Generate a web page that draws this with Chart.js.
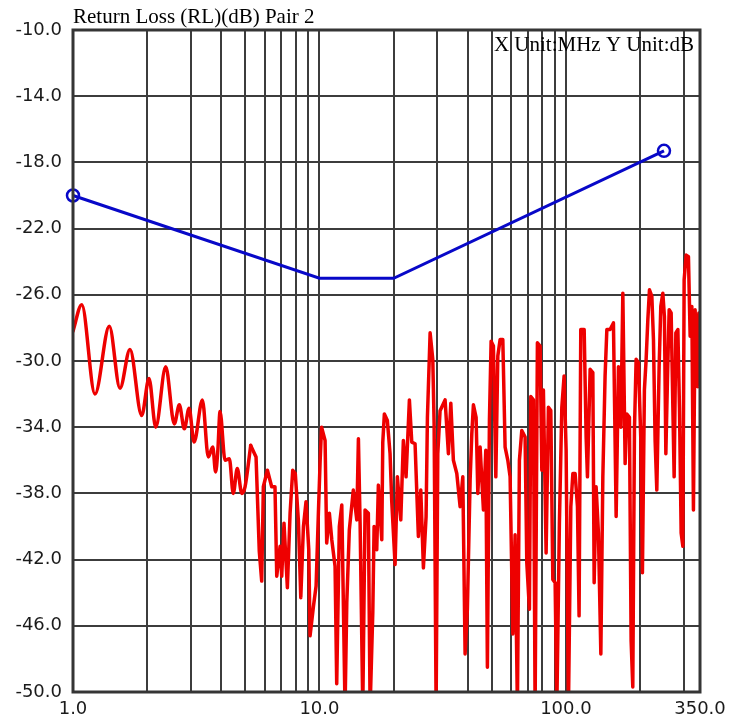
<!DOCTYPE html>
<html>
<head>
<meta charset="utf-8">
<script src="https://cdn.jsdelivr.net/npm/chart.js@4.4.1/dist/chart.umd.min.js"></script>
<style>
  html, body { margin: 0; padding: 0; background: #ffffff; }
  #wrap { width: 742px; height: 722px; position: relative; }
</style>
</head>
<body>
<div id="wrap"><canvas id="c" width="742" height="722"></canvas></div>
<script>
// ---- Data ----
const chartTitle = "Return Loss (RL)(dB) Pair 2";
const unitText = "X Unit:MHz Y Unit:dB";

// Limit line (blue)
const limitFreq = [1, 10, 20, 250];
const limitDb = [-20.0, -25.0, -25.0, -17.3];

// Measured return loss (red), MHz
const measFreq = [
  1.00, 1.085, 1.228, 1.404, 1.551, 1.703, 1.90, 2.034, 2.166, 2.378,
  2.577, 2.70, 2.83, 2.958, 3.10, 3.35, 3.54, 3.69, 3.79, 3.87,
  3.95, 4.14, 4.31, 4.47, 4.64, 4.84, 4.99, 5.26, 5.53, 5.70,
  5.83, 5.92, 6.15, 6.40, 6.60, 6.71, 6.92, 7.03, 7.18, 7.41,
  7.60, 7.79, 7.98, 8.21, 8.40, 8.61, 8.82, 9.05, 9.16, 9.45,
  9.69, 9.90, 10.06, 10.2, 10.54, 10.70, 10.97, 11.22, 11.57, 11.75,
  12.04, 12.32, 12.70, 12.91, 13.22, 13.72, 14.17, 14.39, 14.62, 14.99,
  15.31, 15.79, 16.05, 16.46, 16.66, 17.08, 17.34, 17.90, 18.07, 18.34,
  18.86, 19.34, 19.65, 20.27, 20.71, 21.38, 21.90, 22.46, 23.17, 23.69,
  24.43, 25.20, 25.77, 26.41, 27.08, 27.42, 28.12, 28.83, 29.19, 29.74,
  30.21, 30.86, 32.34, 33.36, 34.12, 34.95, 36.08, 37.21, 38.16, 38.99,
  39.83, 40.86, 41.51, 42.14, 43.21, 43.91, 44.86, 46.27, 47.31, 48.02,
  48.94, 49.72, 50.80, 51.95, 52.93, 54.08, 55.46, 56.66, 58.11, 59.37,
  60.89, 62.20, 63.56, 64.76, 66.22, 68.30, 69.39, 71.11, 72.04, 73.82,
  74.99, 76.62, 78.58, 79.84, 81.04, 83.11, 84.92, 86.84, 88.48, 90.42,
  91.86, 94.10, 96.25, 98.33, 100.2, 102.4, 104.7, 106.7, 109.0, 111.4,
  113.1, 114.9, 118.6, 120.8, 122.3, 125.4, 128.6, 130.2, 132.6, 135.5,
  138.6, 141.2, 144.2, 146.6, 151.1, 155.9, 159.9, 163.4, 167.1, 170.2,
  173.9, 176.7, 181.0, 183.9, 186.8, 189.7, 192.7, 196.9, 201.4, 204.4,
  208.2, 211.6, 215.0, 218.3, 223.2, 226.6, 230.1, 233.8, 238.9, 242.7,
  247.3, 251.0, 254.4, 258.2, 262.4, 267.3, 271.6, 274.9, 279.3, 284.6,
  288.9, 293.5, 298.2, 301.8, 307.5, 314.2, 319.2, 324.3, 329.2, 334.4,
  343.0, 346.2, 350.0
];
const measDb = [
  -28.2, -26.6, -32.0, -27.9, -31.65, -29.3, -33.3, -31.05, -34.0, -30.35,
  -33.8, -32.65, -34.1, -32.85, -34.9, -32.35, -35.8, -35.2, -36.7, -35.4,
  -33.05, -36.0, -35.9, -38.0, -36.5, -38.0, -37.6, -35.1, -35.8, -41.5,
  -43.3, -37.6, -36.6, -37.6, -37.6, -43.0, -41.2, -43.0, -39.8, -43.7,
  -39.2, -36.6, -36.8, -39.6, -44.3, -40.0, -38.5, -41.4, -46.6, -44.85,
  -43.6, -39.2, -36.1, -34.0, -34.8, -41.0, -39.2, -40.8, -42.4, -49.5,
  -40.0, -38.7, -51.0, -44.6, -40.2, -37.8, -39.6, -34.7, -39.8, -51.0,
  -39.0, -39.2, -51.0, -45.2, -40.0, -41.4, -37.5, -40.8, -34.9, -33.2,
  -33.6, -35.6, -38.5, -42.3, -37.0, -39.6, -34.8, -37.0, -32.35, -34.9,
  -35.0, -40.6, -37.8, -42.5, -39.4, -33.4, -28.3, -29.9, -33.8, -51.0,
  -35.6, -33.0, -32.35, -35.6, -32.55, -36.0, -36.8, -38.8, -37.0, -47.7,
  -45.0, -37.2, -34.4, -32.65, -33.4, -38.0, -35.2, -39.0, -35.4, -48.5,
  -33.6, -28.8, -29.1, -37.0, -29.7, -28.7, -28.7, -35.2, -36.0, -37.0,
  -46.5, -40.5, -51.0, -36.0, -34.2, -34.6, -42.2, -45.0, -32.15, -32.35,
  -51.0, -28.9, -29.1, -36.6, -31.75, -41.6, -32.8, -33.0, -43.2, -43.4,
  -51.0, -39.8, -32.8, -30.9, -35.4, -51.0, -38.8, -36.8, -36.8, -38.8,
  -45.4, -28.1, -28.1, -34.6, -37.0, -30.5, -30.7, -43.4, -37.6, -40.4,
  -47.7, -37.0, -30.9, -28.1, -28.1, -27.7, -39.4, -30.35, -34.0, -25.9,
  -36.2, -33.2, -33.4, -46.9, -49.7, -34.2, -29.9, -30.1, -34.8, -42.8,
  -31.75, -29.9, -27.5, -25.7, -26.1, -28.7, -34.8, -37.8, -30.35, -26.7,
  -25.9, -27.3, -35.6, -31.15, -26.9, -27.1, -32.8, -37.0, -28.3, -28.1,
  -32.8, -40.4, -41.2, -25.1, -23.6, -23.7, -28.5, -26.7, -39.0, -26.9,
  -31.55, -27.1, -27.4
];
// Index where the trace stops oscillating smoothly and turns spiky
const smoothEnd = 27;

// Axis ticks
const xGridFreqs = [1, 2, 3, 4, 5, 6, 7, 8, 9, 10, 20, 30, 40, 50, 60, 70, 80, 90, 100, 200, 300, 350];
const xLabelFreqs = [1, 10, 100, 350];
const yMin = -50, yMax = -10, yStep = 4;

// ---- Chart ----
const toPts = (xs, ys) => xs.map((x, i) => ({ x: x, y: ys[i] }));
const RED = '#ee0000';
const BLUE = '#0808c8';

const framePlugin = {
  id: 'frame',
  afterDraw(chart) {
    const { ctx, chartArea: a } = chart;
    ctx.save();
    ctx.strokeStyle = '#353535';
    ctx.lineWidth = 3;
    ctx.strokeRect(a.left, a.top, a.right - a.left, a.bottom - a.top);
    ctx.fillStyle = '#000000';
    ctx.font = '21px "Liberation Serif", "Times New Roman", serif';
    ctx.textBaseline = 'alphabetic';
    ctx.textAlign = 'left';
    ctx.fillText(chartTitle, a.left, 23);
    ctx.textAlign = 'right';
    ctx.fillText(unitText, a.right - 6, 51);
    ctx.restore();
  }
};

new Chart(document.getElementById('c'), {
  type: 'line',
  data: {
    datasets: [
      {
        label: 'Measured (low)',
        data: toPts(measFreq.slice(0, smoothEnd + 1), measDb.slice(0, smoothEnd + 1)),
        borderColor: RED,
        borderWidth: 3.5,
        borderJoinStyle: 'round',
        borderCapStyle: 'round',
        pointRadius: 0,
        fill: false,
        cubicInterpolationMode: 'monotone',
        order: 3
      },
      {
        label: 'Measured (high)',
        data: toPts(measFreq.slice(smoothEnd), measDb.slice(smoothEnd)),
        borderColor: RED,
        borderWidth: 3.5,
        borderJoinStyle: 'round',
        borderCapStyle: 'round',
        pointRadius: 0,
        fill: false,
        tension: 0,
        order: 2
      },
      {
        label: 'Limit',
        data: toPts(limitFreq, limitDb),
        borderColor: BLUE,
        borderWidth: 3,
        pointRadius: [6, 0, 0, 6],
        pointBorderWidth: 2.5,
        pointBorderColor: BLUE,
        pointBackgroundColor: 'rgba(0,0,0,0)',
        fill: false,
        tension: 0,
        clip: false,
        order: 1
      }
    ]
  },
  options: {
    responsive: false,
    animation: false,
    devicePixelRatio: 1,
    layout: { padding: { top: 30, right: 42, left: 0, bottom: 0 } },
    plugins: {
      legend: { display: false },
      tooltip: { enabled: false },
      title: { display: false }
    },
    scales: {
      x: {
        type: 'logarithmic',
        min: 1,
        max: 350,
        z: 1,
        afterBuildTicks(axis) {
          axis.ticks = xGridFreqs.map(v => ({ value: v }));
        },
        afterFit(scale) { scale.height = 30; },
        border: { display: false },
        grid: { color: '#3c3c3c', lineWidth: 2, drawTicks: false },
        ticks: {
          autoSkip: false,
          maxRotation: 0,
          padding: 7,
          color: '#1a1a1a',
          font: { family: '"DejaVu Sans", sans-serif', size: 18 },
          callback(value) {
            return xLabelFreqs.includes(value) ? Number(value).toFixed(1) : '';
          }
        }
      },
      y: {
        type: 'linear',
        min: yMin,
        max: yMax,
        z: 1,
        afterFit(scale) { scale.width = 73; },
        border: { display: false },
        grid: { color: '#3c3c3c', lineWidth: 2, drawTicks: false },
        ticks: {
          stepSize: yStep,
          padding: 11,
          color: '#1a1a1a',
          font: { family: '"DejaVu Sans", sans-serif', size: 18 },
          callback(value) { return Number(value).toFixed(1); }
        }
      }
    }
  },
  plugins: [framePlugin]
});
</script>
</body>
</html>
